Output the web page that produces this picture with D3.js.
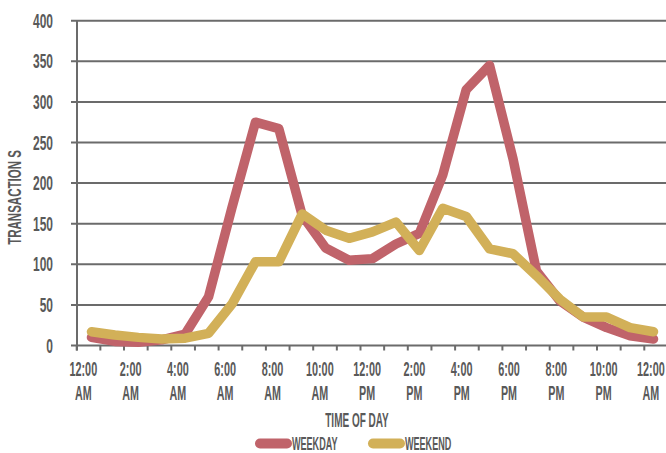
<!DOCTYPE html>
<html>
<head>
<meta charset="utf-8">
<script src="https://cdn.jsdelivr.net/npm/d3@7"></script>
<style>
  html, body { margin: 0; padding: 0; background: #fff; }
  svg { display: block; }
  text { font-family: "Liberation Sans", Arial, sans-serif; font-weight: 700; fill: #595959; }
</style>
</head>
<body>
<svg id="chart" width="666" height="453"></svg>
<script>
// Hour of day, 0 = midnight through 24 = next midnight
const hours = [0, 1, 2, 3, 4, 5, 6, 7, 8, 9, 10, 11, 12, 13, 14, 15, 16, 17, 18, 19, 20, 21, 22, 23, 24];

// Transactions per hour
const weekday = [10, 5, 4, 7, 14, 60, 170, 275, 267, 160, 120, 105, 107, 125, 138, 210, 315, 345, 230, 92, 55, 35, 22, 12, 8];
const weekend = [17, 13, 10, 8, 9, 15, 51, 103, 103, 162, 142, 132, 140, 152, 117, 169, 159, 119, 113, 86, 57, 35, 35, 22, 17];

// Axis labels (every second hour)
const labelHours = [0, 2, 4, 6, 8, 10, 12, 14, 16, 18, 20, 22, 24];
const timeLabels = ["12:00", "2:00", "4:00", "6:00", "8:00", "10:00", "12:00", "2:00", "4:00", "6:00", "8:00", "10:00", "12:00"];
const periodLabels = ["AM", "AM", "AM", "AM", "AM", "AM", "PM", "PM", "PM", "PM", "PM", "PM", "AM"];
const yTicks = [0, 50, 100, 150, 200, 250, 300, 350, 400];

const seriesNames = ["WEEKDAY", "WEEKEND"];
const seriesColors = ["#c0636a", "#d2b058"];

const svg = d3.select("#chart");
const W = 666;

const axisX = 77;
const y = d3.scaleLinear().domain([0, 400]).range([345.5, 20.7]);
// tick marks sit on hour boundaries, values plotted a bit further in
const xTick = d3.scaleLinear().domain([0, 24]).range([76.7, 644.3]);
const x = d3.scaleLinear().domain([0, 24]).range([91.5, 653.5]);

const axisColor = "#6b6b6b";

// condensed text helper
function label(g, str, px, py, anchor, sx, size, rotate) {
  return g.append("text")
    .attr("transform", `translate(${px},${py})` + (rotate ? ` rotate(${rotate})` : "") + ` scale(${sx},1)`)
    .attr("text-anchor", anchor)
    .style("font-size", size + "px")
    .text(str);
}

// horizontal gridlines with short outer ticks
svg.append("g").selectAll("line")
  .data(yTicks)
  .join("line")
  .attr("x1", axisX - 6)
  .attr("x2", W)
  .attr("y1", d => y(d))
  .attr("y2", d => y(d))
  .attr("stroke", axisColor)
  .attr("stroke-width", 2);

// y axis line
svg.append("line")
  .attr("x1", axisX).attr("x2", axisX)
  .attr("y1", y(400)).attr("y2", y(0) + 5)
  .attr("stroke", axisColor).attr("stroke-width", 2);

// x tick marks
svg.append("g").selectAll("line")
  .data(hours)
  .join("line")
  .attr("x1", d => xTick(d)).attr("x2", d => xTick(d))
  .attr("y1", y(0)).attr("y2", y(0) + 5)
  .attr("stroke", axisColor).attr("stroke-width", 2);

// y tick labels
const yl = svg.append("g");
yTicks.forEach(v => label(yl, String(v), 53, y(v) + 7, "end", 0.6, 20));

// x tick labels
const xl = svg.append("g");
labelHours.forEach((h, i) => {
  const cx = xTick(h) + 6.6;
  label(xl, timeLabels[i], cx, 376, "middle", 0.53, 20.5);
  label(xl, periodLabels[i], cx, 399.5, "middle", 0.55, 19.5);
});

// axis titles
label(svg, "TIME OF DAY", 357, 426.5, "middle", 0.5, 20);
label(svg, "TRANSACTION S", 21, 197.5, "middle", 0.64, 18, -90);

// series lines
const line = d3.line().x((d, i) => x(hours[i])).y(d => y(d));
[weekday, weekend].forEach((s, k) => {
  svg.append("path")
    .datum(s)
    .attr("d", line)
    .attr("fill", "none")
    .attr("stroke", seriesColors[k])
    .attr("stroke-width", 9.5)
    .attr("stroke-linejoin", "round")
    .attr("stroke-linecap", "round");
});

// legend
const legend = svg.append("g");
const legendX = [260, 373];
seriesNames.forEach((name, k) => {
  legend.append("line")
    .attr("x1", legendX[k]).attr("x2", legendX[k] + 27)
    .attr("y1", 443.5).attr("y2", 443.5)
    .attr("stroke", seriesColors[k])
    .attr("stroke-width", 10)
    .attr("stroke-linecap", "round");
  label(legend, name, legendX[k] + 32, 450, "start", 0.49, 18.5);
});
</script>
</body>
</html>
